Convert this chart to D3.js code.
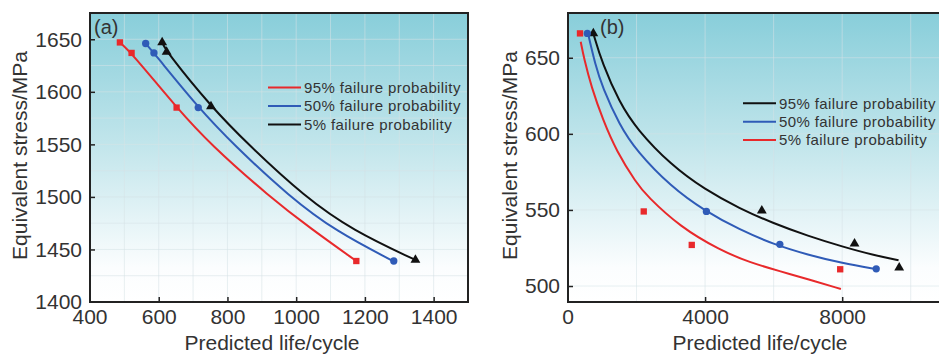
<!DOCTYPE html>
<html><head><meta charset="utf-8">
<script src="https://cdn.jsdelivr.net/npm/d3@7"></script>
<style>body{margin:0;background:#fff;overflow:hidden}svg{display:block}text{font-family:"Liberation Sans",Arial,sans-serif;fill:#333}</style>
</head><body><svg id="c" width="939" height="356"></svg>
<script>
// ---------- Panel (a) data ----------
const aXTicks = [400, 600, 800, 1000, 1200, 1400];
const aYTicks = [1400, 1450, 1500, 1550, 1600, 1650];
const aXGrid = [500, 600, 700, 800, 900, 1000, 1100, 1200, 1300, 1400];
const aYGrid = [1425, 1450, 1475, 1500, 1525, 1550, 1575, 1600, 1625, 1650];
const aLegend = ["95% failure probability", "50% failure probability", "5% failure probability"];
const aPts95 = [[487,1647],[521,1637],[652,1585],[1175,1439]];
const aPts50 = [[562,1646],[586,1637],[715,1585],[1284,1439]];
const aPts5  = [[610,1647],[623,1638],[752,1586],[1347,1440]];
const aCurve95 = [[487,1647],[521,1637],[652,1585],[750,1550],[923,1500],[1042,1470],[1175,1439]];
const aCurve50 = [[562,1646],[586,1637],[715,1585],[817,1550],[981,1500],[1117,1467],[1282,1439]];
const aCurve5  = [[610,1647],[623,1638],[752,1586],[860,1550],[1025,1500],[1165,1468],[1347,1440]];

// ---------- Panel (b) data ----------
const bXTicks = [0, 4000, 8000];
const bYTicks = [500, 550, 600, 650];
const bXGrid = [2000, 4000, 6000, 8000, 10000];
const bYGrid = [500, 550, 600, 650];
const bLegend = ["95% failure probability", "50% failure probability", "5% failure probability"];
const bPts95 = [[739,666],[5655,549.5],[8360,527.8],[9664,512]];
const bPts50 = [[564,666],[4038,549],[6181,527.4],[8993,511.3]];
const bPts5  = [[350,666],[2210,549],[3611,527],[7942,511]];
const bCurve95 = [[739,666],[1000,646.2],[1500,620.7],[2000,603.2],[3000,579.6],[4000,563.3],[5000,551],[6000,541.1],[7000,532.9],[8000,525.9],[9000,519.8],[9645,517]];
const bCurve50 = [[584,666],[800,645.1],[1000,630.9],[1500,605.8],[2000,588.7],[3000,565.3],[4000,549.2],[5000,537.1],[6000,527.4],[7000,520.5],[8000,515],[9014,511]];
const bCurve5  = [[371,660.5],[467,649.6],[680,630.9],[1022,609],[1410,588.8],[2000,567.5],[2298,559.3],[3270,538.8],[4438,523.5],[5300,515.5],[6190,509.7],[7000,504.5],[7963,498]];

const RED = "#e8292b", BLUE = "#2f5bb7", BLACK = "#111";
const FONT = '"Liberation Sans",Arial,sans-serif';
const svg = d3.select("#c");
const defs = svg.append("defs");
const grad = defs.append("linearGradient").attr("id","bg").attr("x1",0).attr("y1",0).attr("x2",0).attr("y2",1);
grad.append("stop").attr("offset","0%").attr("stop-color","#88ceda");
grad.append("stop").attr("offset","45%").attr("stop-color","#c1e5eb");
grad.append("stop").attr("offset","88%").attr("stop-color","#fbfdfe");
grad.append("stop").attr("offset","100%").attr("stop-color","#ffffff");

function panel(o) {
  const x = d3.scaleLinear().domain(o.xDom).range([o.left, o.right]);
  const y = d3.scaleLinear().domain(o.yDom).range([o.bottom, o.top]);
  const g = svg.append("g");
  const clipId = "clip" + o.tag;
  defs.append("clipPath").attr("id", clipId).append("rect")
    .attr("x", o.left).attr("y", o.top).attr("width", o.right - o.left).attr("height", o.bottom - o.top);
  g.append("rect").attr("x", o.left).attr("y", o.top).attr("width", o.right - o.left)
    .attr("height", o.bottom - o.top).attr("fill", "url(#bg)");
  // grid
  const gg = g.append("g").attr("clip-path", `url(#${clipId})`);
  gg.selectAll(".vg").data(o.xGrid).join("line")
    .attr("x1", d => x(d)).attr("x2", d => x(d)).attr("y1", o.top).attr("y2", o.bottom)
    .attr("stroke", "#d6e2e5").attr("stroke-opacity", 0.55).attr("stroke-width", 1);
  gg.selectAll(".hg").data(o.yGrid).join("line")
    .attr("y1", d => y(d)).attr("y2", d => y(d)).attr("x1", o.left).attr("x2", o.right)
    .attr("stroke", "#d6e2e5").attr("stroke-opacity", 0.55).attr("stroke-width", 1);
  // axes (inward ticks)
  const xa = g.append("g").attr("transform", `translate(0,${o.bottom})`)
    .call(d3.axisBottom(x).tickValues(o.xTicks).tickSize(-5).tickPadding(7).tickFormat(d3.format("d")));
  const ya = g.append("g").attr("transform", `translate(${o.left},0)`)
    .call(d3.axisLeft(y).tickValues(o.yTicks).tickSize(-5).tickPadding(8).tickFormat(d3.format("d")));
  [xa, ya].forEach(a => {
    a.select(".domain").remove();
    a.selectAll(".tick line").attr("stroke", "#222").attr("stroke-width", 1.5);
    a.selectAll(".tick text").attr("font-size", 21).attr("fill", "#333").attr("font-family", FONT);
  });
  xa.selectAll(".tick text").attr("dy", "0.72em");
  // curves
  const line = d3.line().x(d => x(d[0])).y(d => y(d[1])).curve(d3.curveBasis);
  const cg = g.append("g").attr("clip-path", `url(#${clipId})`);
  o.series.forEach(s => {
    cg.append("path").datum(s.curve).attr("d", line).attr("fill", "none")
      .attr("stroke", s.color).attr("stroke-width", 2);
  });
  o.series.forEach(s => {
    cg.selectAll(null).data(s.pts).join("path")
      .attr("transform", d => `translate(${x(d[0])},${y(d[1])})`)
      .attr("d", d3.symbol().type(s.sym).size(s.size)).attr("fill", s.color);
  });
  // frame
  g.append("rect").attr("x", o.left).attr("y", o.top).attr("width", o.right - o.left)
    .attr("height", o.bottom - o.top).attr("fill", "none").attr("stroke", "#222").attr("stroke-width", 2);
  // legend
  o.legend.forEach((t, i) => {
    const ly = o.legY + i * o.legGap;
    g.append("line").attr("x1", o.legX).attr("x2", o.legX + o.legLen).attr("y1", ly).attr("y2", ly)
      .attr("stroke", o.legColors[i]).attr("stroke-width", 2);
    g.append("text").attr("x", o.legX + o.legLen + 3).attr("y", ly).attr("dy", "0.35em")
      .attr("font-size", 15).attr("letter-spacing", 0.4).text(t);
  });
  // panel label
  g.append("text").attr("x", o.labX).attr("y", o.top + 14).attr("dy", "0.35em").attr("font-size", 20).text(o.label);
  // titles
  g.append("text").attr("x", o.xTitleX).attr("y", 350).attr("text-anchor", "middle")
    .attr("font-size", 21).text("Predicted life/cycle");
  g.append("text").attr("transform", `translate(${o.yTitleX},${(o.top + o.bottom) / 2 - 2}) rotate(-90)`)
    .attr("text-anchor", "middle").attr("dy", "0.35em").attr("font-size", 21).text("Equivalent stress/MPa");
  return {x, y};
}

const A = panel({
  tag: "a", left: 90, right: 468, top: 13, bottom: 302,
  xDom: [400, 1500], yDom: [1400, 1675],
  xTicks: aXTicks.slice(1), yTicks: aYTicks.slice(1), xGrid: aXGrid, yGrid: aYGrid,
  series: [
    {curve: aCurve95, pts: aPts95, color: RED, sym: d3.symbolSquare, size: 40},
    {curve: aCurve50, pts: aPts50, color: BLUE, sym: d3.symbolCircle, size: 42},
    {curve: aCurve5, pts: aPts5, color: BLACK, sym: d3.symbolTriangle, size: 42}
  ],
  legend: aLegend, legColors: [RED, BLUE, BLACK], legX: 268, legLen: 33, legY: 87.5, legGap: 18.5,
  label: "(a)", labX: 94, xTitleX: 272, yTitleX: 20
});
const B = panel({
  tag: "b", left: 568, right: 945, top: 13, bottom: 302,
  xDom: [0, 11000], yDom: [489.5, 679.4],
  xTicks: bXTicks.slice(1), yTicks: bYTicks, xGrid: bXGrid, yGrid: bYGrid,
  series: [
    {curve: bCurve95, pts: bPts95, color: BLACK, sym: d3.symbolTriangle, size: 42},
    {curve: bCurve50, pts: bPts50, color: BLUE, sym: d3.symbolCircle, size: 42},
    {curve: bCurve5, pts: bPts5, color: RED, sym: d3.symbolSquare, size: 40}
  ],
  legend: bLegend, legColors: [BLACK, BLUE, RED], legX: 743, legLen: 33, legY: 103.3, legGap: 18.4,
  label: "(b)", labX: 600, xTitleX: 760, yTitleX: 510
});
// corner tick labels (no tick marks at the frame corners)
svg.append("text").attr("x", A.x(aXTicks[0])).attr("y", 309).attr("dy", "0.72em").attr("text-anchor", "middle").attr("font-size", 21).text(aXTicks[0]);
svg.append("text").attr("x", 82).attr("y", A.y(aYTicks[0])).attr("dy", "0.32em").attr("text-anchor", "end").attr("font-size", 21).text(aYTicks[0]);
svg.append("text").attr("x", B.x(bXTicks[0])).attr("y", 309).attr("dy", "0.72em").attr("text-anchor", "middle").attr("font-size", 21).text(bXTicks[0]);
</script></body></html>
